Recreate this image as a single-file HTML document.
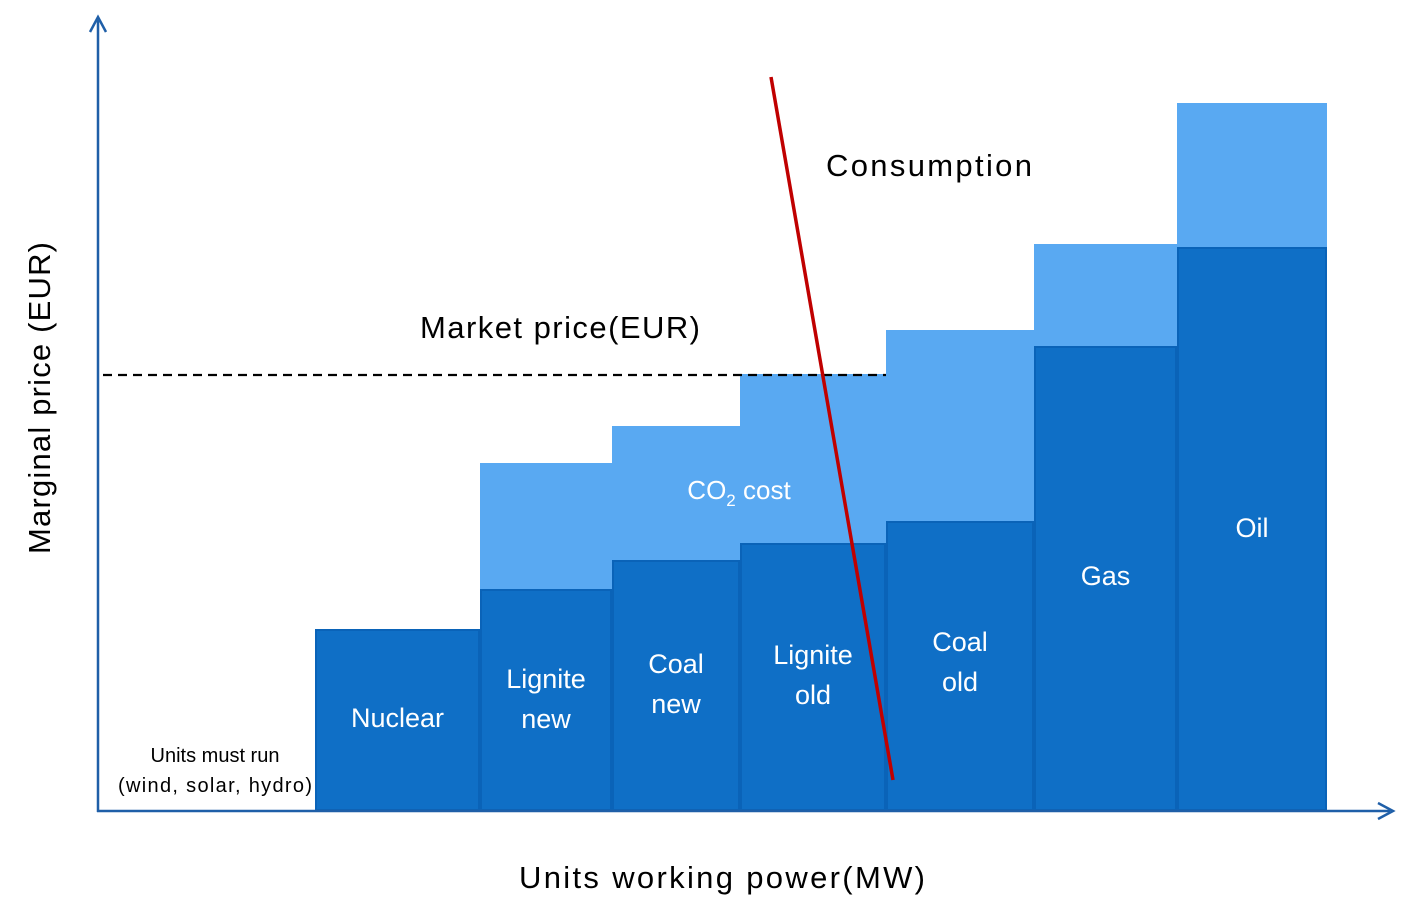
<!DOCTYPE html>
<html><head><meta charset="utf-8"><style>
html,body{margin:0;padding:0;background:#fff;}
svg{display:block;font-family:"Liberation Sans",sans-serif;}
</style></head><body>
<svg id="chart" width="1411" height="922" viewBox="0 0 1411 922">
<g id="bars"></g>
<g id="labels"></g>
<line x1="103" y1="375" x2="886" y2="375" stroke="#000" stroke-width="2.2" stroke-dasharray="9,6"/>
<text x="560" y="338" font-size="31" text-anchor="middle" fill="#000" textLength="280">Market price(EUR)</text>
<line x1="771" y1="77" x2="893" y2="780" stroke="#C00000" stroke-width="3.5"/>
<text x="929" y="176" font-size="31" text-anchor="middle" fill="#000" textLength="206">Consumption</text>
<text x="739" y="499" font-size="26" text-anchor="middle" fill="#fff">CO<tspan font-size="17" dy="7">2</tspan><tspan dy="-7"> cost</tspan></text>
<text x="215" y="762" font-size="20" text-anchor="middle" fill="#000">Units must run</text>
<text x="215" y="792" font-size="20" text-anchor="middle" fill="#000" textLength="194">(wind, solar, hydro)</text>
<line x1="98" y1="812" x2="98" y2="20" stroke="#1F5FA8" stroke-width="2.5"/>
<polyline points="90,32 98,17 106,32" fill="none" stroke="#1F5FA8" stroke-width="2.5"/>
<line x1="97" y1="811" x2="1390" y2="811" stroke="#1F5FA8" stroke-width="2.5"/>
<polyline points="1378,803 1393,811 1378,819" fill="none" stroke="#1F5FA8" stroke-width="2.5"/>
<text transform="translate(50,398) rotate(-90)" font-size="31" text-anchor="middle" fill="#000" textLength="312">Marginal price (EUR)</text>
<text x="722" y="888" font-size="31" text-anchor="middle" fill="#000" textLength="406">Units working power(MW)</text>
</svg>
<script>
const categories = ["Nuclear","Lignite new","Coal new","Lignite old","Coal old","Gas","Oil"];
const baseCost = [180,220,249,266,288,463,562];
const co2Cost = [0,127,135,170,192,103,145];
const capacity = [165,132,128,146,148,143,150];
const mustRun = 217;
const labelLines = [["Nuclear"],["Lignite","new"],["Coal","new"],["Lignite","old"],["Coal","old"],["Gas"],["Oil"]];

const NS = "http://www.w3.org/2000/svg";
const x0 = 98, y0 = 810;
const xs = v => x0 + v;
const ys = v => y0 - v;
const labelY = [720, 681, 666, 657, 644, 578, 530];
const barsG = document.getElementById('bars');
const labG = document.getElementById('labels');
let cum = mustRun;
categories.forEach((c,i)=>{
  const xl = xs(cum), xr = xs(cum + capacity[i]);
  cum += capacity[i];
  if (co2Cost[i] > 0) {
    const l = document.createElementNS(NS,'rect');
    l.setAttribute('x', xl); l.setAttribute('width', xr-xl);
    l.setAttribute('y', ys(baseCost[i]+co2Cost[i])); l.setAttribute('height', co2Cost[i]+1);
    l.setAttribute('fill', '#59A9F2');
    
    
    barsG.appendChild(l);
  }
  const d = document.createElementNS(NS,'rect');
  d.setAttribute('x', xl+1); d.setAttribute('width', xr-xl-2);
  d.setAttribute('y', ys(baseCost[i])); d.setAttribute('height', baseCost[i]);
  d.setAttribute('fill', '#0F6FC6'); d.setAttribute('stroke', '#0A63B8'); d.setAttribute('stroke-width', '2');
  
  
  barsG.appendChild(d);
  const lines = labelLines[i];
  const cx = (xl+xr)/2;
  lines.forEach((t,j)=>{
    const tx = document.createElementNS(NS,'text');
    tx.setAttribute('x', cx);
    tx.setAttribute('y', labelY[i] + j*40);
    tx.setAttribute('font-size', '27');
    tx.setAttribute('fill', '#fff');
    tx.setAttribute('text-anchor', 'middle');
    tx.setAttribute('dominant-baseline', 'middle');
    tx.textContent = t;
    
    
    labG.appendChild(tx);
  });
});
</script>
</body></html>
